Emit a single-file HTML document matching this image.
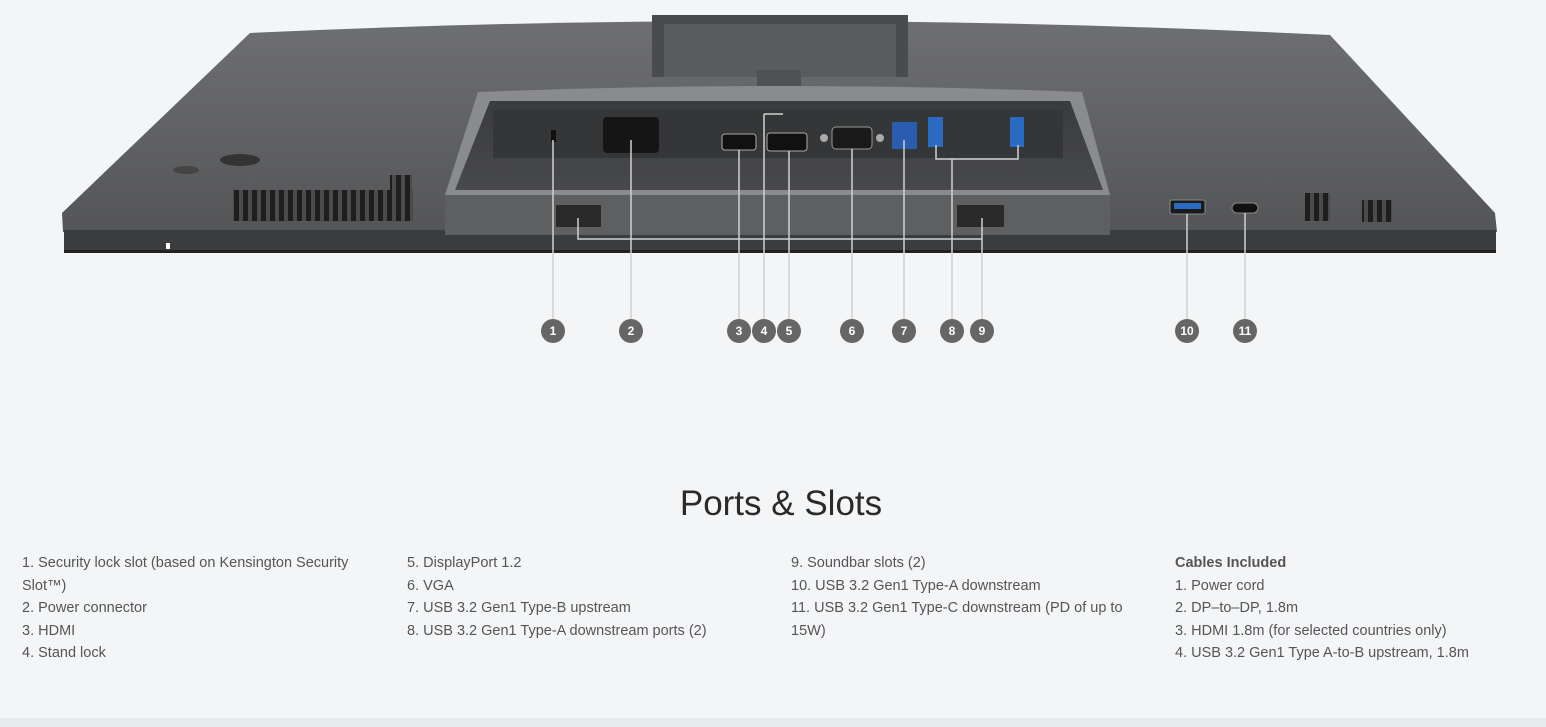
<!DOCTYPE html>
<html><head><meta charset="utf-8"><style>
html,body{margin:0;padding:0;background:#f4f5f7;width:1546px;height:727px;overflow:hidden;font-family:"Liberation Sans",sans-serif}
.col{position:absolute;top:552px;font-size:14.5px;line-height:22.5px;color:#555}
h1{position:absolute;top:484px;left:0;width:1562px;text-align:center;margin:0;font-weight:normal;font-size:35px;color:#2a2a2a}
.strip{position:absolute;left:0;top:718px;width:1546px;height:9px;background:#e8e9eb}
</style></head><body>
<svg width="1546" height="727" style="position:absolute;left:0;top:0">
<defs>
<linearGradient id="bd" x1="0" y1="0" x2="0" y2="1"><stop offset="0" stop-color="#6e6f71"/><stop offset="1" stop-color="#545557"/></linearGradient>
<linearGradient id="rc" x1="0" y1="0" x2="0" y2="1"><stop offset="0" stop-color="#3a3b3d"/><stop offset="1" stop-color="#48494b"/></linearGradient>
<pattern id="sl" width="9" height="10" patternUnits="userSpaceOnUse"><rect width="5" height="10" fill="#1e1e1e"/><rect x="5" width="4" height="10" fill="#4a4b4d"/></pattern>
</defs>
<path d="M250,33 Q780,8 1330,35 L1495,213 L1497,232 L63,232 L62,213 Z" fill="url(#bd)"/>
<rect x="64" y="230" width="1432" height="22" fill="#3b3c3e"/>
<rect x="64" y="250" width="1432" height="3" fill="#222"/>
<rect x="652" y="15" width="256" height="62" fill="#4a4b4d"/>
<rect x="664" y="24" width="232" height="53" fill="#5a5b5d"/>
<rect x="757" y="70" width="44" height="16" fill="#505153"/>
<path d="M478,92 Q780,80 1082,92 L1110,195 L445,195 Z" fill="#8a8b8d"/>
<path d="M490,101 L1070,101 L1103,190 L455,190 Z" fill="url(#rc)"/>
<rect x="493" y="110" width="570" height="48" fill="#353638"/>
<rect x="603" y="117" width="56" height="36" rx="4" fill="#151515"/>
<rect x="551" y="130" width="5" height="12" fill="#111"/>
<rect x="722" y="134" width="34" height="16" rx="3" fill="#111" stroke="#aaa"/>
<rect x="767" y="133" width="40" height="18" rx="3" fill="#111" stroke="#aaa"/>
<rect x="832" y="127" width="40" height="22" rx="4" fill="#1a1a1a" stroke="#999"/>
<circle cx="824" cy="138" r="4" fill="#aaa"/><circle cx="880" cy="138" r="4" fill="#aaa"/>
<rect x="892" y="122" width="25" height="27" fill="#2a5db0"/>
<rect x="928" y="117" width="15" height="30" fill="#2a6ac0"/>
<rect x="1010" y="117" width="14" height="30" fill="#2a6ac0"/>
<rect x="445" y="195" width="665" height="40" fill="#5e5f61"/>
<rect x="556" y="205" width="45" height="22" fill="#2a2a2a"/>
<rect x="957" y="205" width="47" height="22" fill="#2a2a2a"/>
<rect x="1170" y="200" width="35" height="14" rx="2" fill="#1a1a1a" stroke="#888"/>
<rect x="1174" y="203" width="27" height="6" fill="#2a6ac0"/>
<rect x="1232" y="203" width="26" height="10" rx="5" fill="#111" stroke="#888"/>
<g fill="url(#sl)">
<rect x="233" y="190" width="180" height="31"/><rect x="390" y="175" width="22" height="46"/>
<rect x="1305" y="193" width="25" height="28"/><rect x="1362" y="200" width="30" height="22"/>
</g>
<ellipse cx="240" cy="160" rx="20" ry="6" fill="#333"/><ellipse cx="186" cy="170" rx="13" ry="4" fill="#444"/>
<rect x="166" y="243" width="4" height="6" fill="#fff"/>
<g stroke="#d0d0d0" stroke-width="1.5" fill="none">
<path d="M553,140 V319"/><path d="M631,140 V319"/><path d="M739,150 V319"/>
<path d="M764,114 H783 M764,114 V319"/><path d="M789,151 V319"/><path d="M852,149 V319"/>
<path d="M904,140 V319"/><path d="M936,145 V159 H1018 V145 M952,159 V319"/>
<path d="M578,218 V239 H982 V218 M982,239 V319"/>
<path d="M1187,214 V319"/><path d="M1245,213 V319"/>
</g>
<g fill="#666" font-size="12" font-weight="bold" text-anchor="middle" font-family="Liberation Sans,sans-serif">
<circle cx="553" cy="331" r="12"/><circle cx="631" cy="331" r="12"/><circle cx="739" cy="331" r="12"/><circle cx="764" cy="331" r="12"/><circle cx="789" cy="331" r="12"/><circle cx="852" cy="331" r="12"/><circle cx="904" cy="331" r="12"/><circle cx="952" cy="331" r="12"/><circle cx="982" cy="331" r="12"/><circle cx="1187" cy="331" r="12"/><circle cx="1245" cy="331" r="12"/>
<g fill="#fff"><text x="553" y="335">1</text><text x="631" y="335">2</text><text x="739" y="335">3</text><text x="764" y="335">4</text><text x="789" y="335">5</text><text x="852" y="335">6</text><text x="904" y="335">7</text><text x="952" y="335">8</text><text x="982" y="335">9</text><text x="1187" y="335">10</text><text x="1245" y="335">11</text></g>
</g>
</svg>
<h1>Ports &amp; Slots</h1>
<div class="col" style="left:22px;width:360px">1. Security lock slot (based on Kensington Security Slot™)<br>2. Power connector<br>3. HDMI<br>4. Stand lock</div>
<div class="col" style="left:407px">5. DisplayPort 1.2<br>6. VGA<br>7. USB 3.2 Gen1 Type-B upstream<br>8. USB 3.2 Gen1 Type-A downstream ports (2)</div>
<div class="col" style="left:791px;width:350px">9. Soundbar slots (2)<br>10. USB 3.2 Gen1 Type-A downstream<br>11. USB 3.2 Gen1 Type-C downstream (PD of up to 15W)</div>
<div class="col" style="left:1175px"><b>Cables Included</b><br>1. Power cord<br>2. DP–to–DP, 1.8m<br>3. HDMI 1.8m (for selected countries only)<br>4. USB 3.2 Gen1 Type A-to-B upstream, 1.8m</div>
<div class="strip"></div>
</body></html>
